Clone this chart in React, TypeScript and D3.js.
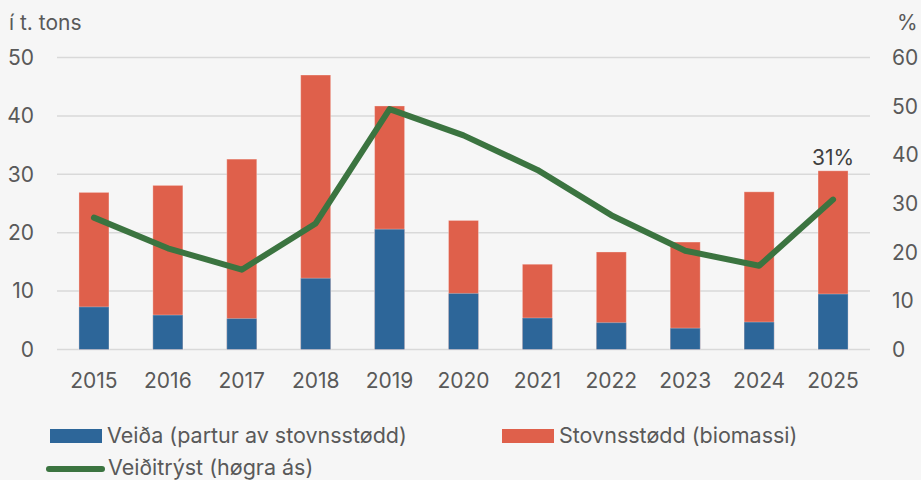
import React from "react";
import * as d3 from "d3";

const years = ["2015", "2016", "2017", "2018", "2019", "2020", "2021", "2022", "2023", "2024", "2025"];
const biomass = [26.9, 28.1, 32.6, 47.0, 41.7, 22.1, 14.6, 16.7, 18.4, 27.0, 30.6];
const catchVals = [7.3, 5.9, 5.3, 12.2, 20.6, 9.6, 5.4, 4.6, 3.65, 4.7, 9.5];
const pressure = [27.1, 20.8, 16.4, 25.9, 49.4, 44.0, 36.9, 27.6, 20.3, 17.2, 30.8];
const leftTicks = [0, 10, 20, 30, 40, 50];
const rightTicks = [0, 10, 20, 30, 40, 50, 60];
const legendLabels = ["Veiða (partur av stovnsstødd)", "Stovnsstødd (biomassi)", "Veiðitrýst (høgra ás)"];
const lastLabel = "31%";

const W = 921;
const H = 480;
const X0 = 57;
const X1 = 870;
const Y0 = 349.5;
const Y1 = 57.5;
const BLUE = "#2d6699";
const RED = "#df604b";
const GREEN = "#3b7440";
const TEXT = "#595959";
const FONT = "Inter, 'Liberation Sans', Arial, sans-serif";
const FS = 21;

export default function App() {
  const x = d3.scaleBand<string>().domain(years).range([X0, X1]).padding(0);
  const yL = d3.scaleLinear().domain([0, 50]).range([Y0, Y1]);
  const yR = d3.scaleLinear().domain([0, 60]).range([Y0, Y1]);
  const bw = x.bandwidth() * 0.406;
  const cx = (d: string) => (x(d) as number) + x.bandwidth() / 2;
  const line = d3
    .line<number>()
    .x((_, i) => cx(years[i]))
    .y((d) => yR(d));
  const lastIdx = years.length - 1;

  return (
    <svg
      width={W}
      height={H}
      style={{ position: "absolute", left: 0, top: 0, background: "#f6f6f6" }}
      fontFamily={FONT}
    >
      <rect x={0} y={0} width={W} height={H} fill="#f6f6f6" />
      {leftTicks.map((t) => (
        <line key={"g" + t} x1={X0} x2={X1} y1={yL(t)} y2={yL(t)} stroke="#d9d9d9" strokeWidth={1.5} />
      ))}
      {leftTicks.map((t) => (
        <text key={"l" + t} x={34} y={yL(t)} dy="0.35em" textAnchor="end" fontSize={FS} fill={TEXT}>
          {t}
        </text>
      ))}
      {rightTicks.map((t) => (
        <text key={"r" + t} x={892} y={yR(t)} dy="0.35em" textAnchor="start" fontSize={FS} fill={TEXT}>
          {t}
        </text>
      ))}
      <text x={9} y={30} fontSize={FS} fill={TEXT}>
        í t. tons
      </text>
      <text x={897} y={30} fontSize={FS} fill={TEXT}>
        %
      </text>
      {years.map((yr, i) => (
        <g key={yr}>
          <rect
            x={cx(yr) - bw / 2}
            y={yL(biomass[i])}
            width={bw}
            height={Y0 - yL(biomass[i])}
            fill={RED}
            stroke="#fff"
            strokeOpacity={0.3}
            strokeWidth={1}
          />
          <rect
            x={cx(yr) - bw / 2}
            y={yL(catchVals[i])}
            width={bw}
            height={Y0 - yL(catchVals[i])}
            fill={BLUE}
            stroke="#fff"
            strokeOpacity={0.3}
            strokeWidth={1}
          />
          <text x={cx(yr)} y={388} textAnchor="middle" fontSize={FS} fill={TEXT}>
            {yr}
          </text>
        </g>
      ))}
      <path
        d={line(pressure) || ""}
        fill="none"
        stroke={GREEN}
        strokeWidth={6}
        strokeLinecap="round"
        strokeLinejoin="round"
      />
      <text x={cx(years[lastIdx])} y={165} textAnchor="middle" fontSize={FS} fill="#404040">
        {lastLabel}
      </text>
      <rect x={50} y={429} width={52} height={14} fill={BLUE} />
      <text x={107} y={443} fontSize={21.5} fill={TEXT}>
        {legendLabels[0]}
      </text>
      <rect x={502} y={429} width={52} height={14} fill={RED} />
      <text x={559} y={443} fontSize={21.5} fill={TEXT}>
        {legendLabels[1]}
      </text>
      <line x1={49} x2={102} y1={469} y2={469} stroke={GREEN} strokeWidth={6} strokeLinecap="round" />
      <text x={108} y={475} fontSize={21.5} fill={TEXT}>
        {legendLabels[2]}
      </text>
    </svg>
  );
}
